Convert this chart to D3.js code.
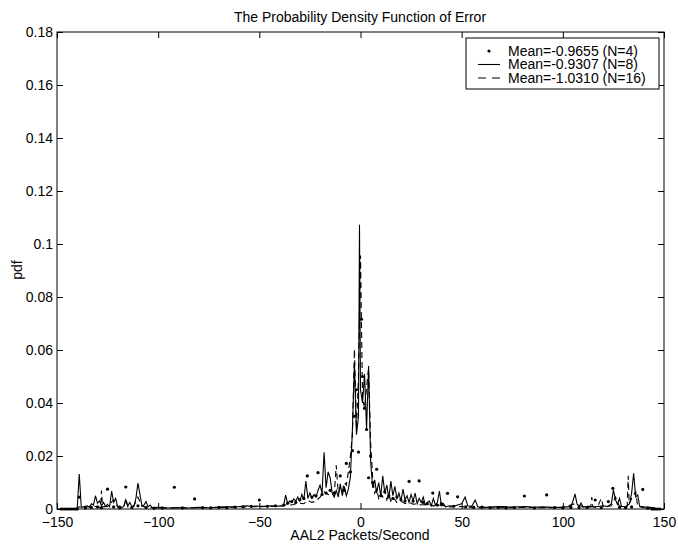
<!doctype html>
<html lang=en>
<head>
<meta charset=utf-8>
<title>PDF of Error</title>
<script src="https://d3js.org/d3.v7.min.js"></script>
<style>
  body { margin: 0; background: #fff; }
  text { font-family: "Liberation Sans", Arial, Helvetica, sans-serif; font-size: 14px; fill: #000; }
</style>
</head>
<body>
<div id="container"></div>
<script>
// x ticks / y ticks
var xTicks = [-150, -100, -50, 0, 50, 100, 150];
var yTicks = [0, 0.02, 0.04, 0.06, 0.08, 0.1, 0.12, 0.14, 0.16, 0.18];

var legendLabels = ["Mean=-0.9655 (N=4)", "Mean=-0.9307 (N=8)", "Mean=-1.0310 (N=16)"];

// N=8 (solid line), [x, pdf]
var n8 = [
  [-146,0],[-141,0],[-140,0.0004],[-139,0.0132],[-138,0.0006],[-137,0.0008],[-135,0.0012],[-134,0.0006],
  [-133,0.002],[-132,0.0015],[-131,0.005],[-130,0.0022],[-129,0.003],[-128,0.0012],[-127,0.0025],[-126,0.001],
  [-125,0.0018],[-124,0.0008],[-123,0.0068],[-122,0.0025],[-121,0.004],[-120,0.0008],[-119,0.0012],[-118,0.0005],
  [-117,0.001],[-116,0.0035],[-115,0.0012],[-114,0.0025],[-113,0.0008],[-112,0.001],[-111,0.004],[-110,0.0098],
  [-109,0.0055],[-108,0.0012],[-107,0.0015],[-106,0.0028],[-105,0.0008],[-104,0.0015],[-103,0.0005],[-100,0.0006],
  [-95,0.0004],[-90,0.0005],[-85,0.0004],[-80,0.0006],[-75,0.0005],[-70,0.0007],[-65,0.0008],[-60,0.0009],
  [-56,0.0012],[-54,0.0009],[-52,0.0011],[-48,0.001],[-44,0.0012],[-40,0.0011],[-38,0.0013],[-37,0.0052],
  [-36,0.002],[-35,0.003],[-34,0.0025],[-33,0.0038],[-32,0.003],[-31,0.0045],[-30,0.003],[-29,0.0055],
  [-28,0.0035],[-27,0.0105],[-26,0.004],[-25,0.006],[-24,0.004],[-23,0.0055],[-22,0.0045],[-21,0.007],
  [-20,0.009],[-19,0.006],[-18,0.0214],[-17,0.008],[-16,0.014],[-15,0.0118],[-14,0.006],[-13,0.0045],
  [-12,0.007],[-11,0.0045],[-10,0.0095],[-9,0.005],[-8,0.0085],[-7,0.005],[-6,0.0075],[-5,0.012],
  [-4,0.03],[-3,0.055],[-2,0.028],[-1,0.035],[-0.5,0.1073],[0,0.045],[1,0.04],[2,0.051],[3,0.03],[4,0.054],
  [5,0.018],[6,0.008],[7,0.011],[8,0.006],[9,0.01],[10,0.005],[11,0.0125],[12,0.006],[13,0.009],[14,0.004],
  [15,0.0105],[16,0.005],[17,0.0085],[18,0.004],[19,0.006],[20,0.003],[21,0.0075],[22,0.0035],[23,0.005],
  [24,0.0025],[25,0.0055],[26,0.003],[27,0.006],[28,0.002],[29,0.004],[30,0.0025],[31,0.0045],[32,0.0015],
  [33,0.0025],[34,0.003],[35,0.0012],[36,0.004],[37,0.0015],[38,0.0025],[39,0.0068],[40,0.0012],[41,0.002],
  [42,0.0008],[44,0.0012],[46,0.001],[48,0.0015],[50,0.002],[51.7,0.0045],[53,0.0012],[55,0.001],[56.7,0.0034],
  [58,0.0008],[62,0.0006],[66,0.0008],[70,0.0009],[74,0.0007],[78,0.0008],[82,0.0009],[86,0.0006],[90,0.0008],
  [95,0.0006],[100,0.0007],[104,0.0009],[105,0.003],[106,0.0057],[107,0.002],[108,0.0008],[109,0.0023],[110,0.0008],
  [113,0.001],[116,0.0008],[120,0.0012],[122,0.0009],[124,0.002],[125,0.0072],[126,0.0035],[127,0.0018],[128,0.004],
  [129,0.001],[131,0.0008],[133,0.002],[134,0.006],[135,0.0135],[136,0.0045],[137,0.0053],[138,0.001],[140,0.0008],
  [143,0.0006],[145,0.0005],[146,0],[148,0]
];

// N=16 (dashed line)
var n16 = [
  [-146,0],[-141,0],[-139,0.0008],[-136,0.0006],[-133,0.0012],[-130,0.0008],[-128.5,0.0005],[-128,0.007],
  [-127.5,0.0008],[-125,0.001],[-122,0.0035],[-120,0.0008],[-117,0.0006],[-116,0.0038],[-115,0.0008],[-112,0.0012],
  [-110,0.0045],[-108,0.001],[-104,0.0006],[-100,0.0004],[-90,0.0005],[-80,0.0005],[-70,0.0006],[-60,0.0008],
  [-50,0.0009],[-42,0.001],[-38,0.0012],[-36,0.0018],[-34,0.0015],[-32,0.002],[-30,0.0022],[-28,0.002],
  [-26,0.0032],[-24,0.0025],[-22,0.003],[-20,0.0045],[-18,0.0065],[-16,0.0055],[-14,0.005],[-13,0.005],
  [-12,0.0165],[-11,0.006],[-10,0.008],[-9,0.0065],[-8,0.01],[-7,0.009],[-6,0.014],[-5,0.02],[-4,0.028],
  [-3,0.0603],[-2,0.03],[-1,0.05],[0,0.0957],[1,0.042],[2,0.038],[3,0.046],[4,0.053],[5,0.025],[6,0.012],
  [7,0.006],[8,0.0075],[9,0.004],[10,0.006],[11,0.0045],[12,0.007],[13,0.0035],[14,0.0055],[15,0.003],
  [16,0.0045],[18,0.0025],[20,0.003],[22,0.002],[24,0.0025],[26,0.0018],[28,0.002],[30,0.0015],[33,0.0018],
  [36,0.0012],[40,0.0015],[44,0.0008],[48,0.001],[52,0.0008],[56,0.0006],[60,0.0005],[70,0.0005],[80,0.0006],
  [90,0.0005],[100,0.0006],[106,0.002],[110,0.0008],[113.8,0.0008],[114.3,0.0045],[114.8,0.0008],[117,0.0006],
  [119,0.004],[120,0.0008],[124,0.0012],[126,0.0045],[128,0.001],[131.8,0.001],[132.3,0.0125],[132.8,0.002],
  [134,0.004],[136,0.0065],[137,0.001],[140,0.0005],[145,0.0004],[146,0],[148,0]
];

// N=4 (dots)
var n4 = [
  [-148,0],[-147,0],[-146,0],[-145,0],[-144,0],[-143,0],[-142,0],[-141,0],[-140,0],[-139,0.0045],
  [-136,0.0004],[-133,0.0006],[-130,0.0008],[-128,0.0005],[-125,0.0075],[-122,0.0008],[-119,0.0004],
  [-116,0.0083],[-113,0.0006],[-110,0.0012],[-106,0.0005],[-102,0.0003],[-98,0.0004],[-92,0.0082],
  [-88,0.0004],[-82,0.0038],[-78,0.0005],[-74,0.0004],[-70,0.0006],[-66,0.0005],[-62,0.0007],[-58,0.0008],
  [-54,0.001],[-50,0.0034],[-46,0.001],[-42,0.0012],[-38,0.0015],[-36,0.0022],[-34,0.0028],[-32,0.0025],
  [-30,0.0035],[-28,0.004],[-26.3,0.0125],[-24,0.0045],[-22,0.005],[-21,0.0137],[-19,0.0055],[-17,0.006],
  [-15,0.007],[-13,0.006],[-10,0.0125],[-8,0.007],[-7,0.0172],[-5,0.014],[-4,0.022],[-3,0.035],[-2,0.045],
  [-1,0.0215],[0.5,0.0716],[1,0.05],[2,0.038],[3,0.03],[4,0.0118],[5,0.02],[6,0.01],[8,0.015],[10,0.005],
  [12,0.0065],[14,0.005],[16,0.004],[18,0.0045],[20,0.0035],[22,0.003],[24,0.0104],[26,0.003],[29,0.0106],
  [31,0.0025],[33,0.002],[35.7,0.006],[38,0.0015],[40,0.002],[43,0.0059],[46,0.001],[48,0.0046],[52,0.0008],
  [56,0.0006],[60,0.0007],[64,0.0005],[68,0.0006],[72,0.0004],[76,0.0005],[81,0.0049],[86,0.0004],
  [92,0.0053],[96,0.0005],[100,0.0004],[104,0.0006],[108,0.0005],[112,0.0006],[116,0.0034],[119,0.0005],
  [122.5,0.0028],[124.7,0.0078],[128,0.0006],[131,0.0005],[134,0.0008],[139.5,0.0074],[142,0.0003],
  [144,0],[145,0],[146,0],[147,0],[148,0]
];

var w = 678, h = 545;
var svg = d3.select("#container").append("svg").attr("width", w).attr("height", h);

var x = d3.scaleLinear().domain([-150, 150]).range([57, 664]);
var y = d3.scaleLinear().domain([0, 0.18]).range([509, 32]);

var yFmt = function(d) { return String(+d.toFixed(2)); };

// axes, MATLAB style ticks pointing inward on all four sides
svg.append("g").attr("transform", "translate(0,509)")
  .call(d3.axisBottom(x).tickValues(xTicks).tickSize(-6).tickPadding(8))
  .call(g => g.select(".domain").remove());
svg.append("g").attr("transform", "translate(0,32)")
  .call(d3.axisTop(x).tickValues(xTicks).tickSize(-6).tickFormat(""))
  .call(g => g.select(".domain").remove());
svg.append("g").attr("transform", "translate(57,0)")
  .call(d3.axisLeft(y).tickValues(yTicks).tickSize(-6).tickPadding(4).tickFormat(yFmt))
  .call(g => g.select(".domain").remove());
svg.append("g").attr("transform", "translate(664,0)")
  .call(d3.axisRight(y).tickValues(yTicks).tickSize(-6).tickFormat(""))
  .call(g => g.select(".domain").remove());

svg.selectAll(".tick text").style("font-size", "14px").attr("fill", "#000");
svg.selectAll(".tick line").attr("stroke", "#000");

svg.append("rect").attr("x", 57).attr("y", 32).attr("width", 607).attr("height", 477)
  .attr("fill", "none").attr("stroke", "#000").attr("stroke-width", 1);

var line = d3.line().x(d => x(d[0])).y(d => y(d[1]));

svg.append("path").datum(n8).attr("d", line)
  .attr("fill", "none").attr("stroke", "#000").attr("stroke-width", 1.1);
svg.append("path").datum(n16).attr("d", line)
  .attr("fill", "none").attr("stroke", "#000").attr("stroke-width", 1.1)
  .attr("stroke-dasharray", "6,4");
svg.selectAll("circle.n4").data(n4).enter().append("circle")
  .attr("class", "n4")
  .attr("cx", d => x(d[0])).attr("cy", d => y(d[1])).attr("r", 1.6).attr("fill", "#000");

// titles
svg.append("text").attr("x", 360).attr("y", 22).attr("text-anchor", "middle")
  .text("The Probability Density Function of Error");
svg.append("text").attr("x", 360).attr("y", 540).attr("text-anchor", "middle")
  .text("AAL2 Packets/Second");
svg.append("text").attr("transform", "translate(22,270) rotate(-90)").attr("text-anchor", "middle")
  .text("pdf");

// legend
var lg = svg.append("g");
lg.append("rect").attr("x", 466).attr("y", 38).attr("width", 193).attr("height", 51)
  .attr("fill", "#fff").attr("stroke", "#000");
var rows = [51, 64.5, 78];
lg.append("circle").attr("cx", 489).attr("cy", rows[0]).attr("r", 1.6).attr("fill", "#000");
lg.append("line").attr("x1", 478).attr("x2", 500).attr("y1", rows[1]).attr("y2", rows[1])
  .attr("stroke", "#000").attr("stroke-width", 1.1);
lg.append("line").attr("x1", 478).attr("x2", 500).attr("y1", rows[2]).attr("y2", rows[2])
  .attr("stroke", "#000").attr("stroke-width", 1.1).attr("stroke-dasharray", "8,6");
lg.selectAll("text.lab").data(legendLabels).enter().append("text")
  .attr("class", "lab")
  .attr("x", 508).attr("y", (d, i) => rows[i]).attr("dy", "0.35em")
  .text(d => d);
</script>
</body>
</html>
